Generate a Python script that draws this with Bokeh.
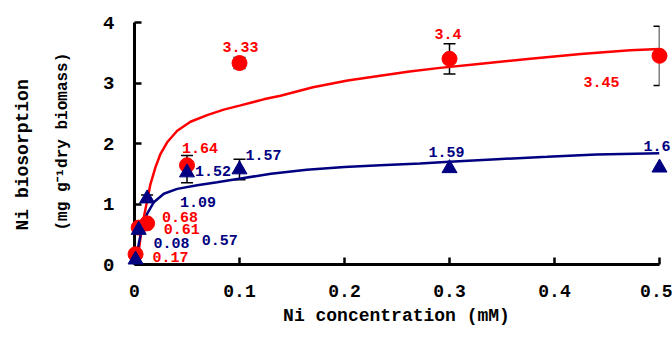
from math import pi

from bokeh.plotting import figure
from bokeh.models import (ColumnDataSource, Range1d, Whisker, TeeHead,
                          FixedTicker, NumeralTickFormatter)
from bokeh.core.properties import value
from bokeh.embed import file_html
from bokeh.resources import INLINE

# Ni concentration (mM) of the measured points
conc = [0.001, 0.004, 0.012, 0.05, 0.1, 0.3, 0.5]

# Ni biosorption (mg g-1 dry biomass) and standard errors
red_q = [0.17, 0.61, 0.68, 1.64, 3.33, 3.4, 3.45]
red_err = [0, 0, 0, 0.16, 0.09, 0.25, 0.49]
blue_q = [0.08, 0.57, 1.09, 1.52, 1.57, 1.59, 1.6]
blue_err = [0, 0, 0.06, 0.17, 0.17, 0, 0]

# fitted isotherm curves
red_fit_x = [0.0025, 0.0057, 0.0089, 0.0121, 0.0152, 0.02, 0.0248, 0.0311,
             0.0407, 0.0533, 0.0692, 0.085, 0.101, 0.123, 0.139, 0.17, 0.203,
             0.234, 0.262, 0.291, 0.33, 0.377, 0.425, 0.472, 0.5]
red_fit_y = [0.0, 0.45, 0.78, 1.06, 1.33, 1.61, 1.83, 2.02,
             2.21, 2.36, 2.47, 2.56, 2.63, 2.73, 2.79, 2.93, 3.04,
             3.12, 3.19, 3.25, 3.32, 3.40, 3.48, 3.54, 3.56]
blue_fit_x = [0.001, 0.004, 0.0073, 0.0121, 0.0184, 0.0279, 0.0407, 0.0597,
              0.0787, 0.101, 0.13, 0.164, 0.2, 0.234, 0.272, 0.3, 0.345,
              0.393, 0.44, 0.5]
blue_fit_y = [0.0, 0.34, 0.62, 0.84, 1.03, 1.17, 1.25, 1.31,
              1.36, 1.42, 1.50, 1.565, 1.61, 1.64, 1.67, 1.70, 1.74,
              1.78, 1.82, 1.84]

# axis ticks
x_ticks = [0, 0.1, 0.2, 0.3, 0.4, 0.5]
y_ticks = [0, 1, 2, 3, 4]

# axis titles
x_title = "Ni concentration (mM)"
y_title_1 = "Ni biosorption"
y_title_2 = "(mg g\u207b\u00b9dry biomass)"

# value label placement (screen px, relative to each marker)
red_dx = [17, 25, 15, -5, -17, -15, -76]
red_dy = [3, 1, -6, -17, -16, -25, 26]
blue_dx = [18, 63, 33, 8, 6, -21, -16]
blue_dy = [-17, 10, 3, -2, -15, -16, -22]

RED = "#ff0000"
NAVY = "#000080"
MONO = value("Liberation Mono")

p = figure(width=672, height=338, output_backend="svg", toolbar_location=None,
           x_range=Range1d(0, 0.5), y_range=Range1d(0, 4),
           min_border_left=134, min_border_right=13,
           min_border_top=22, min_border_bottom=74)
p.grid.visible = False
p.outline_line_color = None
p.background_fill_color = "white"
p.border_fill_color = "white"

for ax in (p.xaxis[0], p.yaxis[0]):
    ax.axis_line_width = 3
    ax.axis_line_color = "black"
    ax.major_tick_in = 7
    ax.major_tick_out = 0
    ax.major_tick_line_width = 2.5
    ax.major_tick_line_color = "black"
    ax.minor_tick_line_color = None
    ax.major_label_standoff = 20
    ax.major_label_text_font = "Liberation Sans Narrow, Liberation Mono"
    ax.major_label_text_font_style = "bold"
    ax.major_label_text_color = "black"

p.xaxis.ticker = FixedTicker(ticks=x_ticks)
p.xaxis.formatter = NumeralTickFormatter(format="0.[0]")
p.xaxis.major_label_text_font_size = "18px"
p.yaxis.ticker = FixedTicker(ticks=y_ticks)
p.yaxis.formatter = NumeralTickFormatter(format="0")
p.yaxis.major_label_text_font_size = "19px"

# fitted curves
p.line(red_fit_x, red_fit_y, line_color=RED, line_width=2.5)
p.line(blue_fit_x, blue_fit_y, line_color=NAVY, line_width=2.5)

# error bars
for q, err in ((red_q, red_err), (blue_q, blue_err)):
    idx = [i for i, e in enumerate(err) if e > 0]
    src = ColumnDataSource(dict(
        x=[conc[i] for i in idx],
        upper=[q[i] + err[i] for i in idx],
        lower=[q[i] - err[i] for i in idx]))
    p.add_layout(Whisker(
        source=src, base="x", upper="upper", lower="lower",
        line_color="black", line_width=1.5,
        upper_head=TeeHead(size=12, line_color="black", line_width=1.5),
        lower_head=TeeHead(size=12, line_color="black", line_width=1.5)))

# measured points
red_src = ColumnDataSource(dict(x=conc, y=red_q, txt=[f"{v:g}" for v in red_q],
                                dx=red_dx, dy=red_dy))
blue_src = ColumnDataSource(dict(x=conc, y=blue_q, txt=[f"{v:g}" for v in blue_q],
                                 dx=blue_dx, dy=blue_dy))

p.scatter("x", "y", source=red_src, marker="circle", size=15,
          fill_color=RED, line_color=RED, level="overlay")
p.scatter("x", "y", source=blue_src, marker="triangle", size=15,
          fill_color=NAVY, line_color=NAVY, level="overlay")

for src, col in ((red_src, RED), (blue_src, NAVY)):
    p.text("x", "y", text="txt", source=src, x_offset="dx", y_offset="dy",
           text_font=MONO, text_font_style="bold", text_font_size="15px",
           text_color=col, text_align="left", text_baseline="middle",
           level="overlay")

# axis titles, anchored at the origin and shifted in screen pixels
p.text(x=[0], y=[0], text=[x_title], x_offset=262, y_offset=51,
       text_font=MONO, text_font_style="bold", text_font_size="18px",
       text_color="black", text_align="center", text_baseline="middle",
       level="overlay")
p.text(x=[0], y=[0], text=[y_title_1], x_offset=-112, y_offset=-34,
       angle=pi / 2, text_font=MONO, text_font_style="bold",
       text_font_size="18px", text_color="black",
       text_align="left", text_baseline="middle", level="overlay")
p.text(x=[0], y=[0], text=[y_title_2], x_offset=-72, y_offset=-34,
       angle=pi / 2, text_font=MONO, text_font_style="bold",
       text_font_size="16px", text_color="black",
       text_align="left", text_baseline="middle", level="overlay")

open("out.html", "w").write(file_html(p, INLINE))
